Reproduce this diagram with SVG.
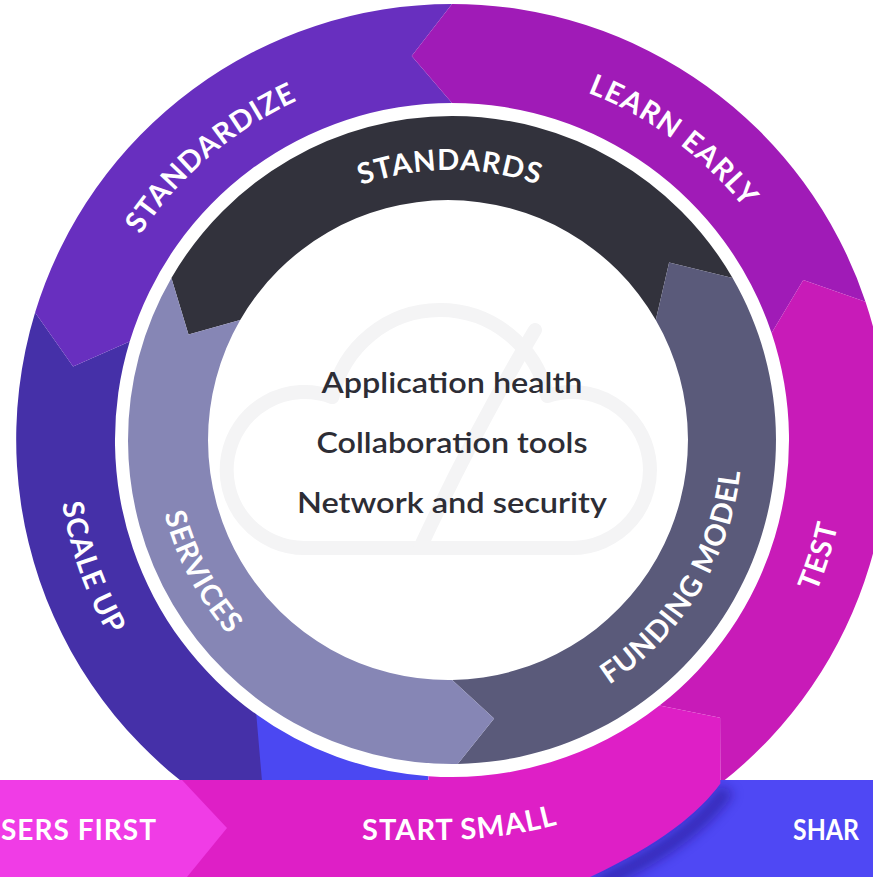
<svg xmlns="http://www.w3.org/2000/svg" width="873" height="877" viewBox="0 0 873 877">
  <style>
    .lbl { font-family: Lato, "Noto Sans", "Liberation Sans", sans-serif; font-weight: 700; fill: #ffffff; font-size: 29px; letter-spacing: 1px; }
    .ctr { font-family: Lato, "Noto Sans", "Liberation Sans", sans-serif; font-weight: 600; fill: #2d2d35; font-size: 29px; text-anchor: middle; }
    .cloud { fill: none; stroke: #f4f4f5; stroke-width: 14; stroke-linejoin: round; stroke-linecap: round; }
  </style>
  <defs>
    <path id="p-standardize" d="M 84.1 378.5 A 373 373 0 0 1 448.7 67"/>
    <path id="p-learn" d="M 429.2 67.7 A 373 373 0 0 1 814.7 352.9"/>
    <path id="p-scale" d="M 82 301.7 A 395 395 0 0 0 251.5 780.3"/>
    <path id="p-test" d="M 664.2 773.1 A 395 395 0 0 0 816.9 288.8"/>
    <path id="p-start" d="M 340 840 L 440 840 Q 500 840 560 824 L 620 808"/>
    <path id="p-standards" d="M 259.1 249.1 A 270 270 0 0 1 640.9 249.1"/>
    <path id="p-services" d="M 167.9 353.7 A 295 295 0 0 0 363.7 722.1"/>
    <path id="p-funding" d="M 493.2 728.8 A 292 292 0 0 0 726.9 347.3"/>
    <filter id="blur" x="-20%" y="-20%" width="140%" height="140%">
      <feGaussianBlur stdDeviation="6"/>
    </filter>
    <clipPath id="shareClip"><rect x="560" y="780" width="313" height="97"/></clipPath>
  </defs>

  <rect width="873" height="877" fill="#ffffff"/>

  <!-- watermark cloud -->
  <g id="watermark">
    <path class="cloud" d="M 305 548 A 78 78 0 1 1 332.4 397.1 A 110 110 0 0 1 547.3 396 A 78 78 0 1 1 572 548 Z"/>
    <path class="cloud" d="M 535 330 Q 475 430 420 548"/>
  </g>

  <!-- outer ring -->
  <g id="blue-piece">
    <path fill="#4b48f2" d="M 421.6 874.9 A 436 436 0 0 1 195.7 792.7 L 253.9 712.6 A 337 337 0 0 0 428.5 776.2 Z"/>
  </g>
  <g id="scale-up">
    <path fill="#4530a8" d="M 256.3 714.4 L 266.5 834 A 436 436 0 0 1 35.1 312.5 L 73.1 366.4 L 129.7 341.5 A 337 337 0 0 0 256.3 714.4 Z"/>
    <text class="lbl"><textPath href="#p-scale" startOffset="50%" text-anchor="middle">SCALE UP</textPath></text>
  </g>
  <g id="standardize">
    <path fill="#682fbf" d="M 35.1 312.5 A 436 436 0 0 1 452 4 L 411.7 56.1 L 452 103 A 337 337 0 0 0 129.7 341.5 L 73.1 366.4 Z"/>
    <text class="lbl"><textPath href="#p-standardize" startOffset="50%" text-anchor="middle">STANDARDIZE</textPath></text>
  </g>
  <g id="learn-early">
    <path fill="#a01bb7" d="M 452 4 A 436 436 0 0 1 865.5 301.7 L 803.3 279.9 L 771.6 333.1 A 337 337 0 0 0 452 103 L 411.7 56.1 Z"/>
    <text class="lbl"><textPath href="#p-learn" startOffset="50%" text-anchor="middle">LEARN EARLY</textPath></text>
  </g>
  <g id="test">
    <path fill="#c81bb8" d="M 865.5 301.7 A 436 436 0 0 1 720.4 783.6 L 720.1 717.7 L 659.5 705.6 A 337 337 0 0 0 771.6 333.1 L 803.3 279.9 Z"/>
    <text class="lbl"><textPath href="#p-test" startOffset="50%" text-anchor="middle">TEST</textPath></text>
  </g>

  <!-- bottom banner -->
  <g id="share">
    <rect x="560" y="780" width="313" height="97" fill="#4f48f4"/>
    <text class="lbl" x="793" y="840" textLength="66" lengthAdjust="spacingAndGlyphs" style="letter-spacing:0">SHAR</text>
  </g>
  <g id="share-shadow" clip-path="url(#shareClip)">
    <path d="M 727 789 C 707 819 667 852 597 884" fill="none" stroke="#1e1080" stroke-width="16" opacity="0.5" filter="url(#blur)"/>
  </g>
  <g id="start-small">
    <path fill="#de1fc6" d="M 720.1 717.7 L 720.4 783.6 C 700 812 660 845 590 877 L 178 877 L 178 780 L 428.5 780 L 428.5 776.2 A 337 337 0 0 0 659.5 705.6 Z"/>
    <text class="lbl"><textPath href="#p-start" startOffset="22">START SMALL</textPath></text>
  </g>
  <g id="users-first">
    <path fill="#f03ce6" d="M 0 780 L 182 780 L 227 828 L 187 877 L 0 877 Z"/>
    <text class="lbl" x="1" y="840" textLength="156" lengthAdjust="spacingAndGlyphs">SERS FIRST</text>
  </g>

  <!-- inner ring -->
  <g id="standards">
    <path fill="#32323c" d="M 171.4 278 A 324 324 0 0 1 732.6 278 L 669.1 262.5 L 655.8 320 A 240 240 0 0 0 240.2 320 L 188.5 334.4 Z"/>
    <text class="lbl"><textPath href="#p-standards" startOffset="50%" text-anchor="middle">STANDARDS</textPath></text>
  </g>
  <g id="funding-model">
    <path fill="#5a5a7a" d="M 732.6 278 A 324 324 0 0 1 457.7 763.9 L 494.1 718.5 L 452.2 680 A 240 240 0 0 0 655.8 320 L 669.1 262.5 Z"/>
    <text class="lbl"><textPath href="#p-funding" startOffset="50%" text-anchor="middle">FUNDING MODEL</textPath></text>
  </g>
  <g id="services">
    <path fill="#8686b5" d="M 457.7 763.9 A 324 324 0 0 1 171.4 278 L 188.5 334.4 L 240.2 320 A 240 240 0 0 0 452.2 680 L 494.1 718.5 Z"/>
    <text class="lbl"><textPath href="#p-services" startOffset="50%" text-anchor="middle">SERVICES</textPath></text>
  </g>

  <!-- center -->
  <g id="center-topics">
    <text class="ctr" x="452" y="393" textLength="261" lengthAdjust="spacingAndGlyphs">Application health</text>
    <text class="ctr" x="452" y="453" textLength="271" lengthAdjust="spacingAndGlyphs">Collaboration tools</text>
    <text class="ctr" x="452" y="513" textLength="310" lengthAdjust="spacingAndGlyphs">Network and security</text>
  </g>

  <g id="connectors"/>
</svg>
